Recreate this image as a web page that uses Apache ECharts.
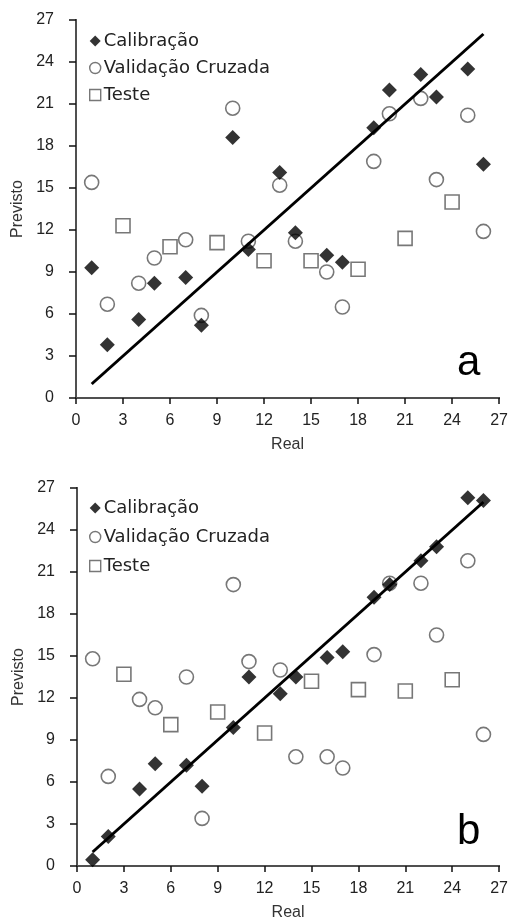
<!DOCTYPE html>
<html><head><meta charset="utf-8">
<script src="https://cdn.jsdelivr.net/npm/echarts@6/dist/echarts.min.js"></script>
<style>html,body{margin:0;padding:0;background:#fff}#c{width:511px;height:922px}</style>
</head><body><div id="c"></div>
<script>
// ---- Data (chart a) ----
const calA = [[1,9.3],[2,3.8],[4,5.6],[5,8.2],[7,8.6],[8,5.2],[10,18.6],[11,10.6],[13,16.1],[14,11.8],[16,10.2],[17,9.7],[19,19.3],[20,22.0],[22,23.1],[23,21.5],[25,23.5],[26,16.7]];
const valA = [[1,15.4],[2,6.7],[4,8.2],[5,10.0],[7,11.3],[8,5.9],[10,20.7],[11,11.2],[13,15.2],[14,11.2],[16,9.0],[17,6.5],[19,16.9],[20,20.3],[22,21.4],[23,15.6],[25,20.2],[26,11.9]];
const testA = [[3,12.3],[6,10.8],[9,11.1],[12,9.8],[15,9.8],[18,9.2],[21,11.4],[24,14.0]];
const lineA = [[1,1],[26,26]];
// ---- Data (chart b) ----
const calB = [[1,0.45],[2,2.1],[4,5.5],[5,7.3],[7,7.2],[8,5.7],[10,9.9],[11,13.5],[13,12.3],[14,13.5],[16,14.9],[17,15.3],[19,19.2],[20,20.1],[22,21.8],[23,22.8],[25,26.3],[26,26.1]];
const valB = [[1,14.8],[2,6.4],[4,11.9],[5,11.3],[7,13.5],[8,3.4],[10,20.1],[11,14.6],[13,14.0],[14,7.8],[16,7.8],[17,7.0],[19,15.1],[20,20.2],[22,20.2],[23,16.5],[25,21.8],[26,9.4]];
const testB = [[3,13.7],[6,10.1],[9,11.0],[12,9.5],[15,13.2],[18,12.6],[21,12.5],[24,13.3]];
const lineB = [[1,1],[26,26]];
const seriesNames = ['Calibração','Validação Cruzada','Teste'];
const axisTitleX = 'Real', axisTitleY = 'Previsto';
const panelLabels = ['a','b'];

const FONT = 'Liberation Sans, Arial, sans-serif';
const WFONT = 'DejaVu Sans, sans-serif';
const chart = echarts.init(document.getElementById('c'));
const grids = [
  {left:76, top:20, width:426, height:378},
  {left:77, top:488, width:424, height:381}
];
function xAxis(i){return {gridIndex:i,type:'value',min:0,max:27,interval:3,name:axisTitleX,nameLocation:'middle',nameGap:39,
  nameTextStyle:{fontFamily:FONT,fontSize:16,color:'#333'},
  axisLine:{show:true,onZero:false,lineStyle:{color:'#111',width:2}},
  axisTick:{show:true,inside:false,length:6,lineStyle:{color:'#111',width:1.5}},
  axisLabel:{fontFamily:FONT,fontSize:16,color:'#222',margin:15},splitLine:{show:false}};}
function yAxis(i){return {gridIndex:i,type:'value',min:0,max:27,interval:3,name:axisTitleY,nameLocation:'middle',nameGap:50,nameRotate:90,
  nameTextStyle:{fontFamily:FONT,fontSize:16,color:'#333'},
  axisLine:{show:true,onZero:false,lineStyle:{color:'#111',width:2}},
  axisTick:{show:true,inside:false,length:7,lineStyle:{color:'#111',width:1.5}},
  axisLabel:{fontFamily:FONT,fontSize:16,color:'#222',margin:22},splitLine:{show:false}};}
function frameX(i){return {gridIndex:i,type:'value',min:0,max:27,position:'top',axisLine:{show:true,lineStyle:{color:'#666',width:1.5}},axisTick:{show:false},axisLabel:{show:false},splitLine:{show:false}};}
function frameY(i){return {gridIndex:i,type:'value',min:0,max:27,position:'right',axisLine:{show:true,lineStyle:{color:'#666',width:1.5}},axisTick:{show:false},axisLabel:{show:false},splitLine:{show:false}};}

const diamond = {symbol:'diamond',symbolSize:[15,15],itemStyle:{color:'#000'}};
const circle = {symbol:'circle',symbolSize:14,itemStyle:{color:'rgba(255,255,255,0)',borderColor:'#555',borderWidth:1.6}};
const square = {symbol:'rect',symbolSize:14,itemStyle:{color:'rgba(255,255,255,0)',borderColor:'#555',borderWidth:1.6}};

function panel(i,cal,val,test,line){
  const ax = i*2;
  return [
    Object.assign({type:'scatter',name:seriesNames[2],xAxisIndex:ax,yAxisIndex:ax,data:test,z:2},square),
    Object.assign({type:'scatter',name:seriesNames[1],xAxisIndex:ax,yAxisIndex:ax,data:val,z:3},circle),
    {type:'line',xAxisIndex:ax,yAxisIndex:ax,data:line,symbol:'none',lineStyle:{color:'#000',width:3},z:4,silent:true},
    Object.assign({type:'scatter',name:seriesNames[0],xAxisIndex:ax,yAxisIndex:ax,data:cal,z:5},diamond)
  ];
}
function legend(top,gap){return {orient:'vertical',left:84,top:top,itemGap:gap,itemWidth:11,itemHeight:11,
  textStyle:{fontFamily:WFONT,fontSize:18,color:'#222',padding:[0,0,0,-2]},
  data:[{name:seriesNames[0],icon:'diamond',itemStyle:{color:'#000'}},
        {name:seriesNames[1],icon:'circle',itemStyle:{color:'rgba(0,0,0,0)',borderColor:'#555',borderWidth:1.4}},
        {name:seriesNames[2],icon:'rect',itemStyle:{color:'rgba(0,0,0,0)',borderColor:'#555',borderWidth:1.4}}]};}

chart.setOption({
  animation:false,
  grid:grids,
  xAxis:[xAxis(0),frameX(0),xAxis(1),frameX(1)],
  yAxis:[yAxis(0),frameY(0),yAxis(1),frameY(1)],
  legend:[legend(27,9),legend(494,11)],
  series:[].concat(panel(0,calA,valA,testA,lineA),panel(1,calB,valB,testB,lineB)),
  graphic:[
    {type:'text',left:457,top:342,style:{text:panelLabels[0],font:'42px '+FONT,fill:'#000'}},
    {type:'text',left:457,top:811,style:{text:panelLabels[1],font:'42px '+FONT,fill:'#000'}}
  ]
});
</script></body></html>
